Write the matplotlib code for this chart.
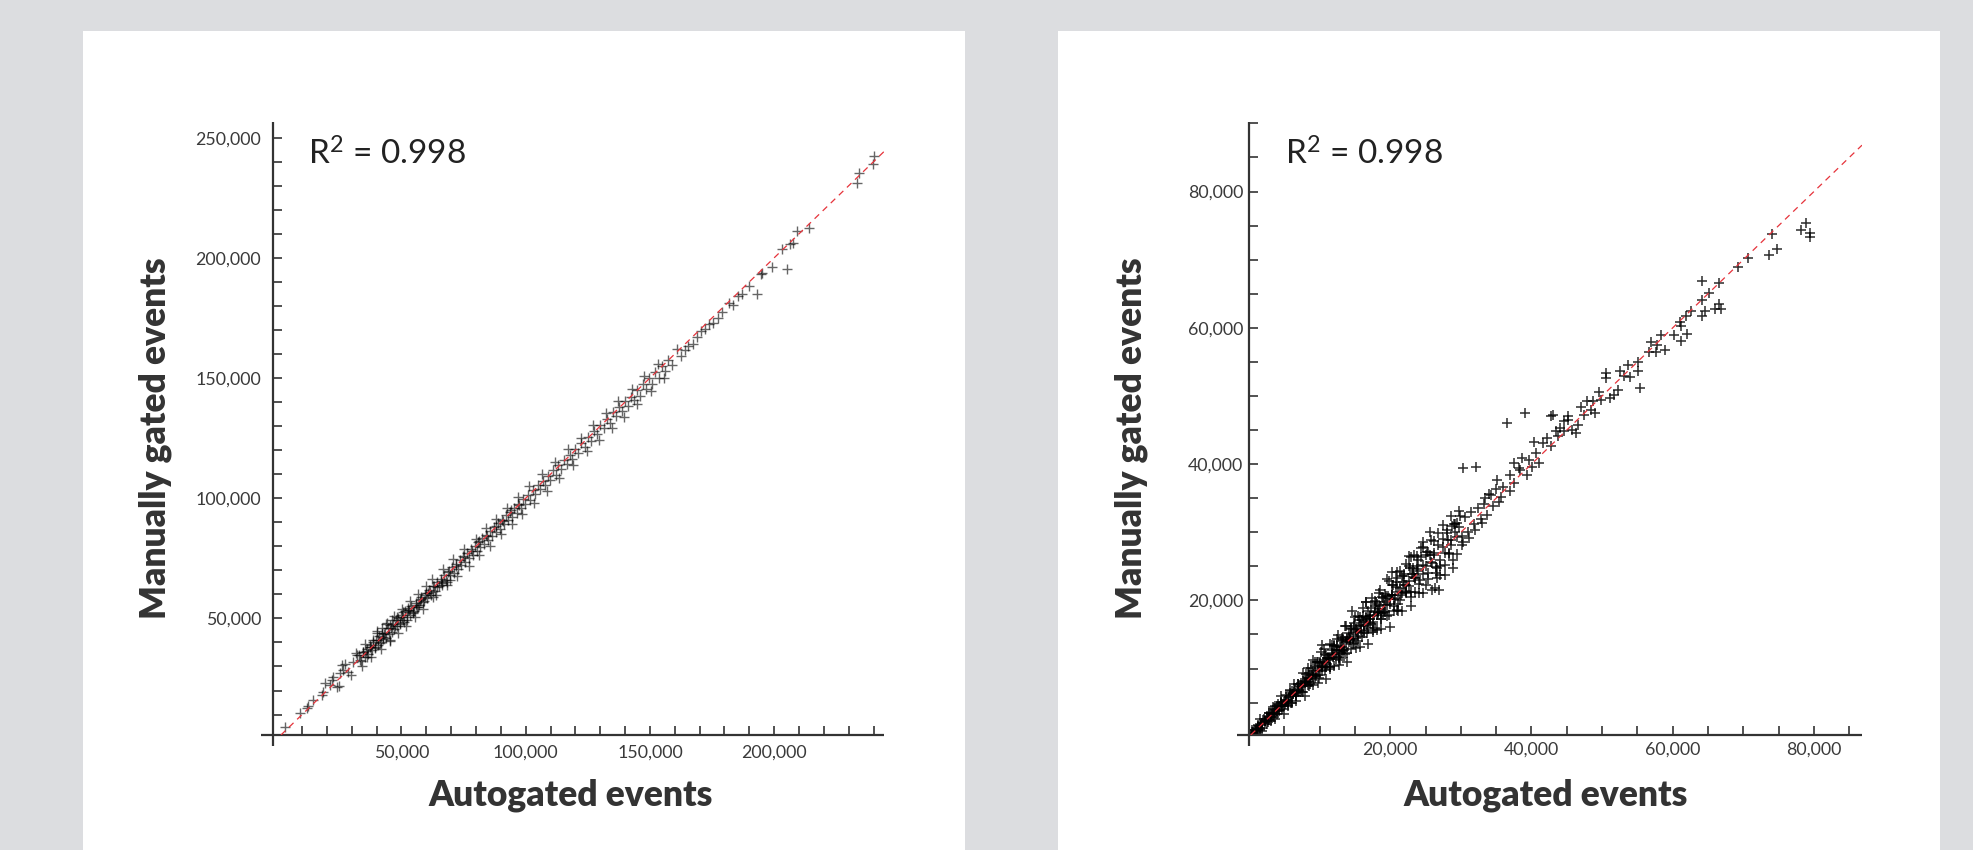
import matplotlib
matplotlib.use("Agg")
import numpy as np
import matplotlib.pyplot as plt
from matplotlib.patches import Rectangle
from matplotlib.ticker import FixedLocator, FuncFormatter

# --- data (thousands of events) ---

# left panel: autogated (x) vs manually gated (y)
auto_left = [
    3.1, 9.2, 11.9, 12.5, 14.5, 17.9, 18.5, 19.2, 21.2, 23.9,
    21.9, 25.3, 26.0, 26.6, 28.6, 30.6, 32.0, 33.3, 34.6, 36.0,
    37.3, 38.7, 39.3, 40.0, 41.4, 42.0, 42.7, 44.1, 45.4, 46.1,
    48.1, 49.4, 50.7, 52.1, 52.7, 54.8, 56.1, 57.5, 59.5, 61.5,
    62.8, 64.2, 66.2, 68.2, 69.5,
    33.1, 33.8, 34.5, 35.2, 36.0, 36.7, 37.3, 38.1, 38.6, 39.2,
    39.9, 40.4, 41.0, 41.6, 42.1, 42.7, 43.3, 43.9, 44.4, 44.9,
    45.5, 46.0, 46.6, 47.1, 47.7, 48.2, 48.8, 49.3, 49.9, 50.5,
    51.0, 51.6, 52.1, 52.8, 53.4, 54.0, 54.6, 55.2, 55.9, 56.5,
    57.2, 57.8, 58.5, 59.1, 59.8, 60.4,
    61.2, 62.0, 62.7, 63.5, 64.3, 65.0, 65.8, 66.5, 67.3, 68.1,
    68.8, 69.6, 70.3, 71.1, 71.9, 72.6, 73.4, 74.1, 74.9, 75.6,
    76.4, 77.2, 77.9, 78.7, 79.5, 80.2, 81.0, 81.8, 82.6, 83.3,
    84.1, 84.9, 85.7, 86.4, 87.2, 88.0, 88.8, 89.6, 90.4, 91.2,
    92.0, 92.9, 93.7, 94.6, 95.4, 96.3, 97.1, 98.0, 98.9, 99.8,
    100.9, 101.8, 102.9, 103.9, 104.8, 105.9, 106.8, 107.9, 108.8, 109.9,
    111.0, 112.1, 113.2, 114.3, 115.4, 116.6, 117.7, 118.8, 120.0, 121.2,
    122.4, 123.7, 125.0, 126.3, 127.6, 128.8, 130.1, 131.4, 132.6, 133.9,
    135.0, 136.3, 137.5, 138.7, 139.9, 141.1, 142.2, 143.4, 144.6, 145.8,
    147.1, 148.4, 149.6, 150.9, 152.2, 153.5, 154.8, 156.1, 157.4, 158.8,
    160.8, 162.4, 164.1, 165.5, 167.2, 168.9, 170.6, 172.2, 173.8, 175.5,
    177.3, 179.1, 182.0, 183.4, 185.6, 187.2, 189.7, 192.9, 194.5, 195.3,
    199.3, 203.3, 205.0, 206.5, 207.7, 209.0, 214.0, 233.5, 234.2, 239.8,
    240.3,
    22.5, 24.8, 27.2, 29.5, 31.8, 34.1, 35.5, 37.9, 40.3, 41.8,
    43.6, 45.2, 46.9, 48.5, 50.2, 51.9, 53.5, 55.3, 56.8, 58.6, 60.0,
    62.4, 64.0, 66.9, 68.5, 70.8, 72.3, 75.2, 77.0, 79.8, 81.3,
    83.9, 85.6, 88.2, 90.1, 92.6, 94.3, 96.9, 98.7,
    101.5, 103.2, 106.4, 108.4, 111.8, 113.6, 116.9, 119.0, 122.1, 124.6,
    127.2, 129.7, 132.2, 134.8, 137.1, 139.5, 142.7, 144.9, 147.6, 150.3,
    153.1, 155.8,
    35.8, 37.9, 40.7, 43.0, 45.8, 47.4, 50.1, 53.1, 55.7, 58.0,
    60.8, 63.1, 66.0, 69.2, 72.0, 75.2, 78.3, 81.4, 84.6, 87.9,
    91.0, 94.2, 97.5,
]
manual_left = [
    5.0, 10.5, 12.6, 13.6, 16.1, 18.1, 19.5, 23.0, 22.3, 21.6,
    24.4, 27.2, 30.6, 28.5, 27.8, 32.0, 34.8, 32.7, 36.2, 34.1,
    38.2, 41.0, 38.2, 43.8, 39.6, 45.9, 42.4, 47.9, 41.0, 49.3,
    50.7, 48.0, 52.8, 49.3, 54.2, 52.1, 54.9, 57.7, 59.7, 61.1,
    59.0, 63.2, 64.6, 65.3, 66.0,
    34.8, 32.2, 35.9, 34.1, 37.3, 35.2, 38.9, 36.9, 40.2, 37.6,
    41.1, 39.0, 42.6, 40.1, 43.8, 41.3, 44.1, 42.0, 45.9, 43.6,
    47.2, 44.3, 47.8, 45.4, 49.3, 46.9, 50.1, 47.5, 51.4, 49.2,
    48.3, 52.9, 50.6, 53.7, 51.5, 55.3, 52.8, 53.1, 56.6, 54.9,
    55.4, 58.9, 56.7, 57.2, 60.6, 58.3,
    61.9, 59.8, 63.4, 61.2, 65.1, 63.3, 66.4, 64.1, 68.2, 66.0,
    69.5, 67.9, 71.2, 69.0, 72.7, 70.4, 74.3, 72.2, 75.8, 73.3,
    77.1, 75.0, 78.8, 76.4, 80.3, 78.1, 81.6, 79.7, 83.5, 81.0,
    84.9, 82.6, 86.4, 84.2, 87.9, 86.1, 89.5, 87.3, 90.8, 89.4,
    92.9, 90.8, 94.3, 92.2, 96.1, 94.0, 97.8, 95.9, 99.6, 97.7,
    101.5, 99.4, 103.6, 101.7, 105.5, 103.8, 107.1, 105.6, 109.4, 107.7,
    111.6, 109.5, 113.7, 112.0, 115.9, 114.3, 118.1, 116.2, 120.6, 118.7,
    123.0, 121.4, 125.5, 123.9, 128.1, 126.6, 130.5, 129.3, 133.0, 131.2,
    135.8, 134.0, 137.9, 136.2, 140.3, 138.4, 142.0, 140.8, 145.1, 142.6,
    147.4, 145.5, 149.9, 147.7, 152.6, 150.1, 155.0, 153.0, 157.6, 155.6,
    161.9, 159.3, 161.5, 163.2, 164.1, 167.0, 169.7, 170.4, 172.6, 173.0,
    174.9, 177.6, 181.3, 180.2, 184.1, 185.0, 188.3, 184.9, 193.3, 193.7,
    196.0, 203.8, 195.4, 205.9, 206.3, 211.0, 212.6, 231.0, 235.2, 239.0,
    242.5,
    25.8, 21.9, 31.0, 26.4, 35.6, 30.2, 39.4, 34.0, 44.6, 37.2,
    47.6, 40.6, 50.8, 44.1, 54.0, 47.0, 57.2, 50.6, 60.1, 54.1, 63.4,
    66.2, 59.6, 70.4, 63.9, 74.6, 67.5, 78.9, 71.8, 83.2, 76.4,
    87.6, 80.3, 91.5, 85.0, 96.0, 89.2, 100.3, 93.6,
    105.0, 98.1, 110.1, 102.9, 115.2, 108.4, 120.5, 113.8, 125.2, 119.6,
    130.6, 124.3, 135.5, 129.1, 140.5, 133.6, 145.6, 139.2, 150.7, 144.8,
    155.9, 150.2,
    36.4, 38.1, 40.9, 43.5, 46.1, 47.0, 50.6, 53.6, 55.4, 58.2,
    60.4, 63.6, 65.7, 69.9, 71.6, 75.5, 77.9, 82.0, 84.1, 88.3,
    90.6, 94.9, 97.1,
]

# right panel: autogated (x) vs manually gated (y)
auto_right = [
    0.5, 0.7, 0.9, 1.1, 1.3, 1.5, 1.7, 1.9, 2.1, 2.3,
    2.5, 2.7, 2.9, 3.1, 3.3, 3.5, 3.7, 3.9, 4.1, 4.3,
    4.5, 4.7, 4.9, 5.1, 5.3, 5.5, 5.7, 5.9, 6.1, 6.3,
    6.5, 6.7, 6.9, 7.1, 7.3, 7.5, 7.7, 7.9, 8.1, 8.3,
    8.5, 8.7, 8.9, 9.1, 9.3, 9.5, 9.7, 9.9, 10.1, 10.3,
    10.5, 10.7, 10.9, 11.1, 11.3, 11.5, 11.7, 11.9, 12.1, 12.3,
    12.5, 12.7, 12.9, 13.1, 13.3, 13.5, 13.7, 13.9, 14.1, 14.3,
    14.5, 14.7, 14.9, 15.1, 15.3, 15.5, 15.7, 15.9, 16.1, 16.3,
    16.5, 16.7, 16.9, 17.1, 17.3, 17.5, 17.7, 17.9, 18.1, 18.3,
    18.5, 18.7, 18.9, 19.1, 19.3, 19.5, 19.7, 19.9,
    20.2, 20.5, 20.8, 21.1, 21.4, 21.7, 22.0, 22.3, 22.6, 22.9,
    23.2, 23.5, 23.8, 24.1, 24.4, 24.7, 25.0, 25.3, 25.6, 25.9,
    26.2, 26.5, 26.8, 27.1, 27.4, 27.7, 28.0, 28.3, 28.6, 28.9,
    29.2, 29.5, 29.8, 30.1,
    1.0, 1.3, 1.6, 1.9, 2.2, 2.5, 2.8, 3.1, 3.4, 3.7,
    4.0, 4.3, 4.6, 4.9, 5.2, 5.5, 5.8, 6.1, 6.4, 6.7,
    7.0, 7.3, 7.6, 7.9, 8.2, 8.5, 8.8, 9.1, 9.4, 9.7,
    10.0, 10.3, 10.6, 10.9, 11.2, 11.5, 11.8, 12.1, 12.4, 12.7,
    13.0, 13.3, 13.6, 13.9, 14.2, 14.5, 14.8, 15.1, 15.4, 15.7,
    16.0, 16.3, 16.6, 16.9, 17.2, 17.5, 17.8, 18.1, 18.4, 18.7,
    19.0, 19.4, 19.8, 20.2, 20.6, 21.0, 21.4, 21.8, 22.2, 22.6,
    23.0, 23.4, 23.8, 24.2, 24.6, 25.0, 25.4, 25.8, 26.2, 26.6,
    27.0, 27.4, 27.8, 28.2, 28.6, 29.0,
    8.4, 9.0, 9.6, 10.2, 10.8, 11.4, 12.0, 12.6, 13.2, 13.8,
    14.4, 15.0, 15.6, 16.2, 16.8, 17.4, 18.0, 18.6, 19.2, 19.8,
    20.4, 21.0, 21.6, 22.2, 22.8, 23.4, 24.0, 24.6, 25.2, 25.8,
    26.3, 26.9, 26.6, 20.3, 21.0, 24.7, 22.9, 12.9, 10.4, 16.5, 14.6,
    29.5, 30.1, 30.6, 31.0, 31.5, 31.9, 32.4, 32.8, 33.3, 33.7,
    34.0, 34.6, 35.0, 35.4, 30.3, 31.2, 32.0, 28.8, 29.9, 33.0,
    78.8, 78.1, 79.5, 79.4, 74.0, 74.8, 73.6, 70.6, 69.2, 64.2,
    66.6, 65.1, 64.2, 64.2, 64.5, 66.0, 66.5, 66.9, 61.0, 61.9,
    62.6, 61.1, 60.2, 62.0, 61.1, 56.9, 57.8, 56.7, 57.6, 58.9,
    55.1, 55.1, 55.4, 50.5, 50.5, 52.5, 53.1, 54.0, 52.3, 51.7,
    51.1, 49.9, 47.8, 48.7, 48.4, 49.0, 47.5, 46.6, 45.8, 46.3,
    45.2, 44.6, 36.6, 39.1, 30.3, 32.1, 42.8, 43.1, 45.1, 44.0,
    44.6, 43.7, 42.2, 41.6, 40.4, 42.8, 38.7, 39.6, 37.5, 41.0,
    40.1, 38.4, 39.3, 35.1, 36.0, 36.9, 34.2, 33.4, 35.7, 37.5,
    37.0, 38.2, 40.6, 43.5, 47.0, 49.5, 53.6, 58.3,
    0.4, 0.7, 1.0, 1.3, 1.6, 1.9, 2.2, 2.5, 2.8, 3.1,
    3.4, 3.7, 4.0, 4.3, 4.6, 4.9, 5.2, 5.5, 5.8, 6.1,
    6.4, 6.7, 7.0, 7.3, 7.6, 7.9, 8.2, 8.5, 8.8, 9.1,
    9.4, 9.7, 10.0, 10.3, 10.6, 10.9, 11.2, 11.5, 11.8, 12.1,
    12.4, 12.7, 13.0, 13.3, 13.6, 13.9, 14.2, 14.5, 14.8, 15.1,
    15.4, 15.7, 16.0, 16.3, 16.6, 16.9, 17.2, 17.5, 17.8, 18.1,
    18.4, 18.7, 19.0, 19.3, 19.6, 19.9, 20.2, 20.5, 20.8, 21.1,
    21.4, 21.7, 22.0, 22.3, 22.6, 22.9, 23.2, 23.5, 23.8, 24.1,
    24.4, 24.7, 25.0, 25.3, 25.6, 25.9, 26.2, 26.5, 26.8, 27.1,
    27.4, 27.7, 28.0, 28.3, 28.6, 28.9, 29.2, 29.5, 29.8,
    0.3, 0.7, 1.1, 1.5, 1.9, 2.3, 2.7, 3.1, 3.5, 3.9,
    4.3, 4.7, 5.1, 5.5, 5.9, 6.3, 6.7, 7.1, 7.5, 7.9,
    8.3, 8.7, 9.1, 9.5, 9.9, 10.3, 10.7, 11.1, 11.5, 11.9,
    12.3, 12.7, 13.1, 13.5, 13.9, 14.3, 14.7, 15.1, 15.5, 15.9,
    16.3, 16.7, 17.1, 17.5, 17.9, 18.3, 18.7, 19.1, 19.5, 19.9,
    20.3, 20.7, 21.1, 21.5, 21.9, 22.3, 22.7, 23.1, 23.5, 23.9,
]
manual_right = [
    0.76, 0.30, 0.99, 0.96, 1.79, 1.19, 1.75, 1.26, 2.54, 2.24,
    2.73, 2.23, 3.44, 2.85, 3.30, 2.85, 4.03, 3.77, 4.86, 3.81,
    4.93, 4.04, 5.05, 4.87, 6.07, 5.03, 5.78, 4.93, 6.76, 6.22,
    6.84, 6.00, 7.69, 6.74, 7.30, 6.57, 8.17, 7.71, 9.17, 7.61,
    9.10, 7.79, 9.10, 8.79, 10.35, 8.86, 9.81, 8.59, 10.99, 10.19,
    10.96, 9.78, 11.94, 10.63, 11.30, 10.29, 12.31, 11.65, 13.48, 11.42,
    13.27, 11.54, 13.16, 12.70, 14.63, 12.69, 13.84, 12.26, 15.21, 14.16,
    15.07, 13.56, 16.20, 14.52, 15.30, 14.01, 16.45, 15.60, 17.78, 15.22,
    17.44, 15.29, 17.22, 16.62, 18.91, 16.52, 17.86, 15.92, 19.44, 18.13,
    19.18, 17.33, 20.45, 18.40, 19.30, 17.73, 20.59, 19.54,
    22.19, 19.21, 21.92, 19.41, 21.78, 21.12, 23.94, 21.12, 22.80, 20.50,
    24.82, 23.30, 24.63, 22.43, 26.30, 23.85, 25.00, 23.13, 26.70, 25.46,
    28.65, 24.92, 28.17, 25.03, 27.86, 27.00, 30.36, 26.87, 28.84, 26.00,
    31.15, 29.25, 30.80, 28.09,
    0.77, 1.64, 1.04, 2.06, 2.09, 3.02, 2.38, 3.41, 3.14, 4.49,
    3.39, 4.30, 5.03, 4.46, 5.43, 4.47, 6.45, 6.02, 6.57, 6.00,
    6.56, 7.94, 6.58, 8.19, 8.01, 9.40, 8.09, 9.62, 8.98, 11.00,
    9.01, 10.30, 11.28, 10.20, 11.55, 9.93, 12.78, 11.98, 12.65, 11.67,
    12.35, 14.23, 12.12, 14.31, 13.92, 15.78, 13.79, 15.83, 14.81, 17.50,
    14.63, 16.30, 17.54, 15.95, 17.68, 15.38, 19.12, 17.93, 18.74, 17.33,
    18.14, 20.63, 17.83, 20.74, 20.23, 22.68, 20.07, 22.77, 21.42, 24.98,
    21.19, 23.40, 25.04, 22.95, 25.24, 22.21, 27.14, 25.58, 26.65, 24.79,
    25.86, 29.02, 25.22, 28.91, 28.12, 31.19,
    10.1, 11.2, 10.9, 12.4, 12.1, 13.6, 13.3, 14.9, 14.5, 16.2,
    15.9, 17.6, 17.1, 18.9, 18.4, 20.3, 19.7, 21.5, 21.0, 22.9,
    22.3, 24.1, 23.6, 25.3, 24.7, 26.6, 25.9, 27.8, 27.1, 28.9,
    21.8, 21.5, 23.3, 24.2, 18.6, 28.6, 26.4, 11.3, 13.5, 19.8, 18.4,
    31.3, 29.4, 32.2, 30.1, 33.0, 31.2, 33.6, 32.0, 34.1, 32.6,
    35.6, 33.8, 36.4, 34.5, 28.6, 29.2, 30.4, 30.9, 32.4, 31.3,
    75.4, 74.3, 73.9, 73.3, 73.7, 71.6, 70.7, 70.3, 68.9, 66.8,
    66.6, 65.1, 64.1, 61.8, 62.4, 62.8, 63.5, 62.7, 60.9, 61.8,
    62.4, 60.2, 59.0, 59.1, 58.0, 57.9, 57.5, 56.5, 56.4, 56.7,
    55.0, 53.6, 51.2, 53.3, 52.6, 53.6, 53.0, 52.8, 50.9, 50.2,
    49.7, 49.4, 49.2, 49.2, 48.0, 47.5, 47.2, 45.8, 45.0, 44.6,
    46.5, 46.3, 46.1, 47.5, 39.4, 39.6, 47.0, 47.2, 47.0, 45.3,
    44.8, 44.1, 43.8, 43.1, 43.2, 42.6, 40.9, 40.6, 40.1, 40.1,
    39.6, 39.2, 38.4, 37.7, 36.7, 36.0, 35.5, 35.0, 35.2, 37.2,
    38.4, 39.5, 41.6, 44.9, 48.4, 50.6, 54.5, 58.9,
    1.00, 0.05, 1.34, 1.05, 2.55, 0.85, 2.37, 1.90, 3.54, 2.26,
    4.34, 2.65, 4.50, 3.93, 5.99, 3.40, 5.45, 4.66, 6.83, 4.94,
    7.67, 5.29, 7.67, 6.81, 9.42, 5.94, 8.52, 7.42, 10.12, 7.63,
    11.01, 7.93, 10.84, 9.69, 12.85, 8.49, 11.59, 10.18, 13.41, 10.32,
    14.35, 10.57, 14.01, 12.57, 16.28, 11.03, 14.66, 12.94, 16.70, 13.01,
    17.68, 13.21, 17.18, 15.45, 19.71, 13.57, 17.73, 15.70, 19.98, 15.70,
    21.02, 15.85, 20.34, 18.33, 23.15, 16.12, 20.81, 18.46, 23.27, 18.38,
    24.35, 18.49, 23.51, 21.21, 26.58, 19.20, 23.88, 21.22, 26.56, 21.07,
    27.69, 21.13, 26.68, 24.09, 30.01, 21.60, 26.95, 23.98, 29.85, 23.76,
    31.03, 23.77, 29.85, 26.97, 32.40, 24.80, 30.02, 26.74, 33.14,
    0.43, 0.61, 1.15, 1.30, 2.01, 2.30, 2.52, 3.35, 3.44, 4.03,
    4.51, 4.55, 5.18, 5.18, 6.06, 6.30, 6.44, 7.46, 7.41, 8.09,
    8.59, 8.50, 9.20, 9.07, 10.12, 10.30, 10.36, 11.57, 11.38, 12.15,
    12.68, 12.44, 13.23, 12.96, 14.17, 14.30, 14.27, 15.68, 15.35, 16.20,
    16.76, 16.39, 17.26, 16.85, 18.23, 18.30, 18.19, 19.80, 19.32, 20.26,
    20.85, 20.33, 21.29, 20.74, 22.29, 22.30, 22.10, 23.91, 23.30, 24.31,
]

r2_label = r"R$^2$ = 0.998"
x_title = "Autogated events"
y_title = "Manually gated events"
fit_slope = 1.0

# --- styling ---
BG = "#dcdde0"
INK = "#333333"
W, H = 1973, 850
plt.rcParams["font.family"] = ["Lato", "DejaVu Sans"]
plt.rcParams["mathtext.fontset"] = "custom"
plt.rcParams["mathtext.rm"] = "Lato"
plt.rcParams["mathtext.it"] = "Lato"


def fx(px):
    return px / W


def fy(py):
    return 1 - py / H


fig = plt.figure(figsize=(W / 100, H / 100), dpi=100, facecolor=BG)

# white cards behind each chart
for x0, x1 in [(83, 965), (1058, 1940)]:
    fig.patches.append(Rectangle((fx(x0), 0), (x1 - x0) / W, fy(31),
                                 transform=fig.transFigure, facecolor="white",
                                 edgecolor="none", zorder=-10))


def draw_panel(box, xs, ys, xlim, ylim, xticks, yticks, label_every_x, label_every_y,
               ms, mew, alpha, ypad, xpad):
    x0, y0, x1, y1 = box
    ax = fig.add_axes([fx(x0), fy(y1), (x1 - x0) / W, (y1 - y0) / H])
    ax.set_facecolor("none")
    ax.plot(np.array(xs) * 1000, np.array(ys) * 1000, linestyle="none", marker="+",
            ms=ms, mew=mew, color="black", alpha=alpha, zorder=2)
    ax.axline((0, 0), slope=fit_slope, color="#e6333b", lw=0.9,
              linestyle=(0, (5, 4)), zorder=3)
    ax.set_xlim(*xlim)
    ax.set_ylim(*ylim)
    for s in ax.spines.values():
        s.set_visible(False)
    # axis lines crossing just past the origin
    ex = 12 / (x1 - x0)
    ey = 11 / (y1 - y0)
    ax.plot([-ex, 1], [0, 0], transform=ax.transAxes, color=INK, lw=1.6,
            clip_on=False, solid_capstyle="butt")
    ax.plot([0, 0], [-ey, 1], transform=ax.transAxes, color=INK, lw=1.6,
            clip_on=False, solid_capstyle="butt")
    ax.xaxis.set_major_locator(FixedLocator(xticks))
    ax.yaxis.set_major_locator(FixedLocator(yticks))
    ax.xaxis.set_major_formatter(FuncFormatter(
        lambda v, p: f"{v:,.0f}" if round(v) % label_every_x == 0 else ""))
    ax.yaxis.set_major_formatter(FuncFormatter(
        lambda v, p: f"{v:,.0f}" if round(v) % label_every_y == 0 else ""))
    ax.tick_params(direction="in", length=6.3, width=1.2, color=INK,
                   labelsize=12.8, labelcolor="#3a3a3a")
    ax.tick_params(axis="y", pad=ypad)
    ax.tick_params(axis="x", pad=xpad)
    return ax


draw_panel((273, 122, 884, 735), auto_left, manual_left,
           (-1700, 244200), (1500, 256500),
           list(range(10000, 240001, 10000)), list(range(10000, 250001, 10000)),
           50000, 50000, ms=7.5, mew=1.0, alpha=0.6, ypad=8.5, xpad=7)

draw_panel((1249, 122, 1862, 735), auto_right, manual_right,
           (0, 86800), (250, 90200),
           list(range(5000, 85001, 5000)), list(range(5000, 90001, 5000)),
           20000, 20000, ms=7.5, mew=1.15, alpha=0.8, ypad=4, xpad=5)

# titles and R^2 annotations
for cx_x, cx_y, r2x in [(571, 155, 308), (1546, 1131, 1285)]:
    fig.text(fx(cx_x), fy(795), x_title, ha="center", va="center",
             fontsize=25.5, fontweight="heavy", color=INK)
    fig.text(fx(cx_y), fy(438), y_title, ha="center", va="center", rotation=90,
             fontsize=25.5, fontweight="heavy", color=INK)
    fig.text(fx(r2x), fy(165), r2_label, ha="left", va="baseline",
             fontsize=24, color="#222222")

fig.savefig("out.png", dpi=100, facecolor=fig.get_facecolor())
